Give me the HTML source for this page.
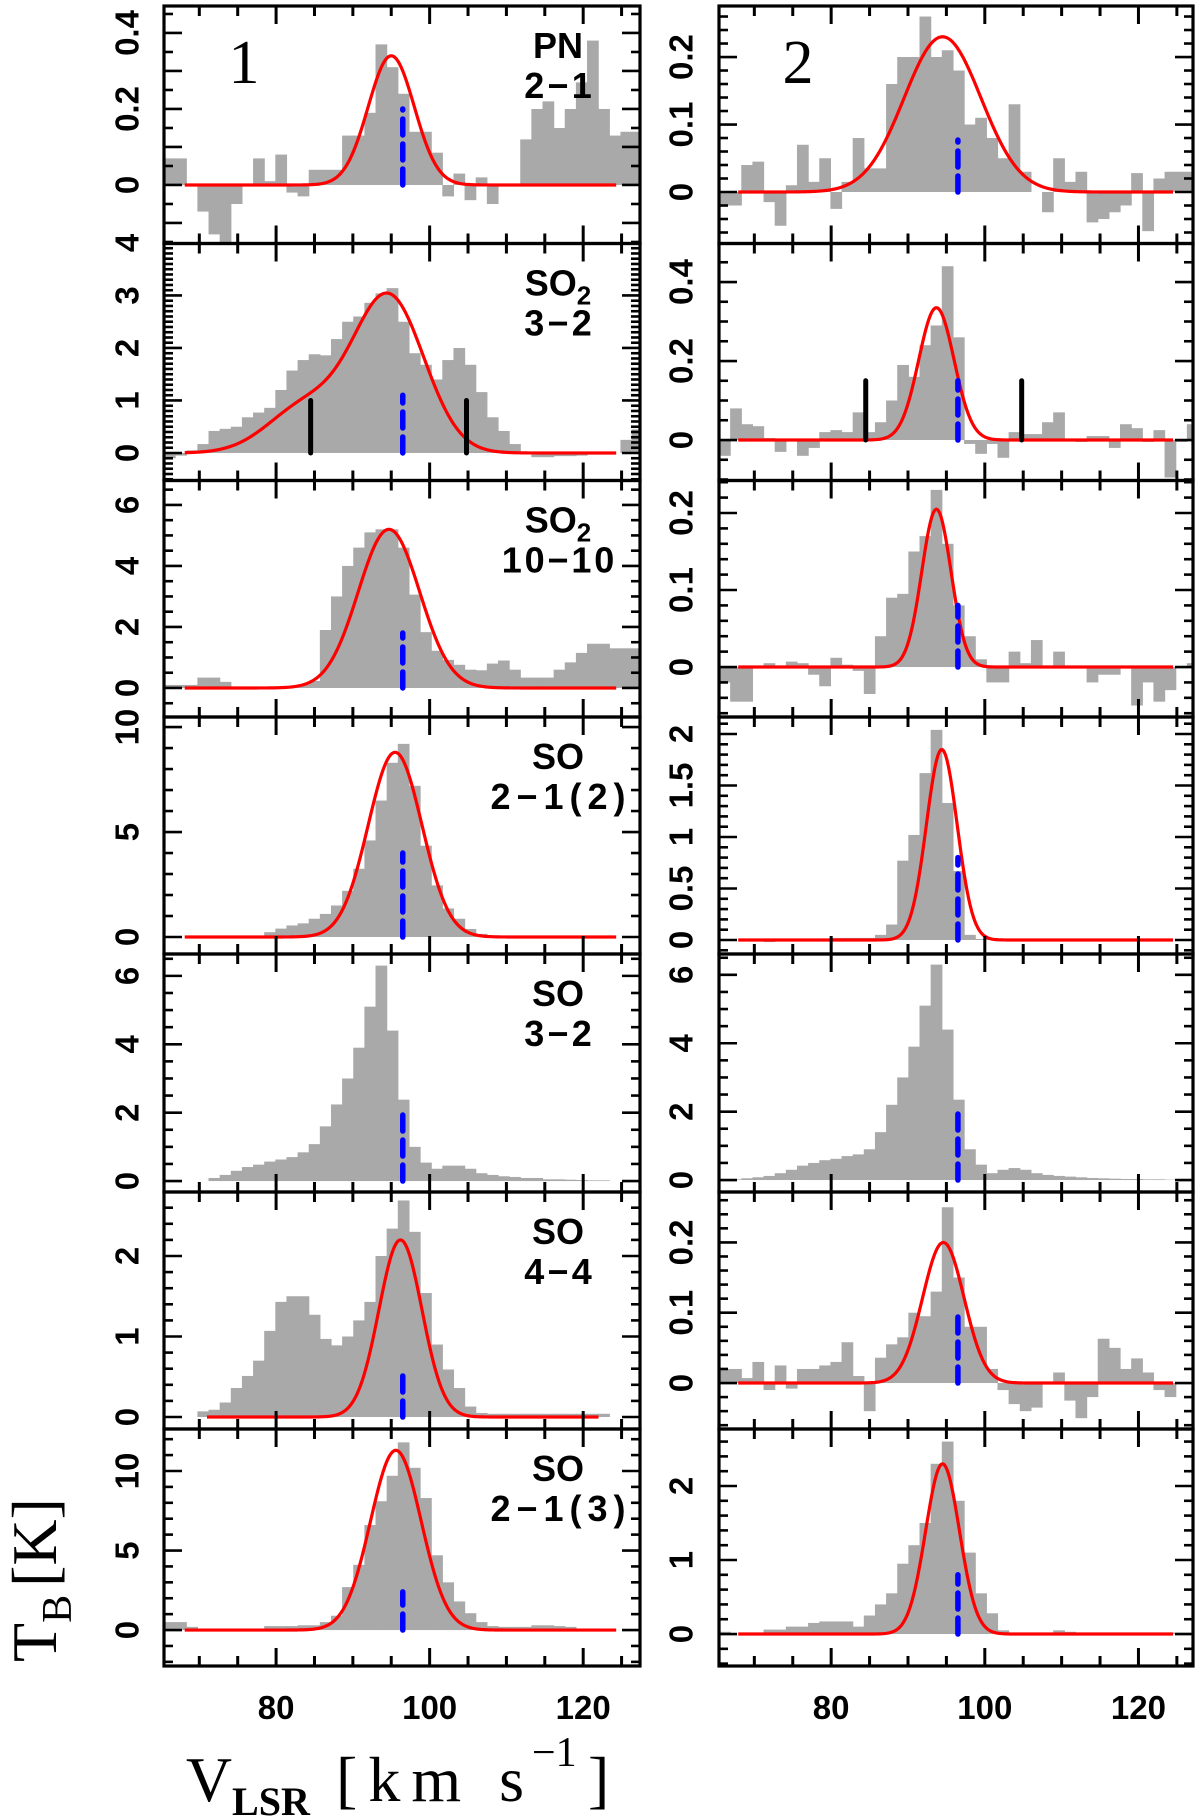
<!DOCTYPE html>
<html><head><meta charset="utf-8"><style>
html,body{margin:0;padding:0;background:#fff}
svg{display:block}
</style></head><body>
<svg id="chart" width="1200" height="1819" viewBox="0 0 1200 1819" xmlns="http://www.w3.org/2000/svg"></svg>
<script>
// ---- data ----
const binStart = 65.4;
const binWidth = 1.45;
const vlsr = 96.5;
const lineLabelTop = ["PN","SO2","SO2","SO","SO","SO","SO"];
const lineLabelBottom = ["2\u22121","3\u22122","10\u221210","2\u22121(2)","3\u22122","4\u22124","2\u22121(3)"];
const xTickLabels = [80, 100, 120];

const histL1 = [0.07,0.07,0.0,-0.07,-0.13,-0.15,-0.05,0.0,0.07,0.01,0.08,-0.02,-0.03,0.04,0.04,0.04,0.13,0.13,0.19,0.37,0.31,0.24,0.14,0.14,0.085,-0.03,0.03,-0.04,0.02,-0.05,0,0,0.12,0.2,0.22,0.15,0.2,0.27,0.38,0.2,0.13,0.14,0.14];
const histL2 = [-0.1,-0.05,0.05,0.17,0.42,0.46,0.5,0.68,0.77,0.86,1.2,1.57,1.77,1.88,1.86,2.17,2.5,2.6,2.86,3.04,3.14,2.5,1.9,1.68,1.4,1.77,2.0,1.68,1.16,0.68,0.42,0.17,0,-0.08,-0.08,-0.06,-0.06,-0.05,0,0,0,0.25,0.45];
const histL3 = [0.1,0.1,0.1,0.34,0.34,0.2,0.05,0,0,0,0,0.05,0.1,0.23,1.9,3.0,4.0,4.6,5.1,5.2,5.2,4.6,3.06,1.83,1.22,0.92,0.76,0.6,0.58,0.8,0.9,0.6,0.34,0.34,0.34,0.6,0.84,1.15,1.45,1.45,1.3,1.3,1.3];
const histL4 = [0,0,0,0,0,0,0,0,0,0.23,0.4,0.55,0.65,0.87,1.1,1.5,2.2,3.25,4.6,6.5,8.3,9.2,7.2,4.35,2.46,1.36,0.87,0.38,0.15,0.05,0,0,0,0,0,0,0,0,0,0,0,0,0];
const histL5 = [0,0,0,0,0.09,0.18,0.3,0.41,0.48,0.57,0.63,0.7,0.84,1.08,1.6,2.24,3.0,3.9,5.1,6.3,4.4,2.38,1.0,0.54,0.36,0.45,0.45,0.36,0.23,0.18,0.14,0.12,0.09,0.09,0.05,0.05,0.04,0.03,0.02,0.02,0,0,0];
const histL6 = [0,0,0,0.07,0.09,0.18,0.36,0.51,0.7,1.07,1.43,1.5,1.5,1.27,0.97,0.89,1.0,1.2,1.43,2.0,2.34,2.69,2.3,1.54,0.9,0.59,0.36,0.13,0.05,0.04,0.04,0.04,0.04,0.04,0.04,0.04,0.04,0.04,0.04,0.04,0,0,0];
const histL7 = [0.5,0.5,0.2,0.1,0.1,0.1,0.1,0.1,0.1,0.25,0.25,0.25,0.3,0.3,0.5,0.9,2.7,4.1,6.6,8.1,9.7,11.8,10.2,8.3,4.7,3.0,1.8,1.06,0.5,0.25,0.2,0.2,0.2,0.3,0.3,0.25,0.2,0.1,0.1,0.05,0,0,0];
const histR1 = [-0.02,-0.02,0.04,0.045,-0.015,-0.05,0.01,0.07,0.015,0.05,-0.025,0.015,0.08,0.035,0.035,0.16,0.2,0.2,0.26,0.2,0.21,0.18,0.1,0.11,0.08,0.05,0.13,0.03,0.0,-0.03,0.05,0.015,0.03,-0.045,-0.04,-0.03,-0.02,0.028,-0.058,0.02,0.03,0.03,0.03];
const histR2 = [-0.04,0.08,0.04,0.035,0.005,-0.03,0,-0.04,-0.02,0.02,0.025,0.02,0.07,0.02,0.045,0.1,0.19,0.16,0.24,0.29,0.44,0.26,-0.01,-0.035,-0.01,-0.045,0.02,0.015,0.015,0.045,0.07,0,-0.005,0.01,0.01,-0.02,0.04,0.03,-0.005,0.025,-0.095,-0.005,0.04];
const histR3 = [-0.02,-0.045,-0.045,0,0.005,0,0.007,0.005,-0.01,-0.025,0.012,0.003,-0.005,-0.035,0.04,0.09,0.095,0.15,0.17,0.23,0.16,0.08,0.04,0.01,-0.02,-0.02,0.02,0.005,0.035,0,0.02,0,0,-0.02,-0.01,-0.01,0,-0.05,-0.02,-0.045,-0.03,0,0.005];
const histR4 = [0,0,0,0,-0.02,0.01,0.01,0.01,0.01,0.01,0.02,0.02,0.02,0.02,0.05,0.15,0.77,1.02,1.62,2.04,1.33,0.67,0.05,0.01,0.01,0.01,0,0,0,0,0,0,0,0,0,0,0,0,0,0,0,0,0];
const histR5 = [0,0.02,0.05,0.08,0.12,0.2,0.3,0.42,0.5,0.58,0.62,0.7,0.75,0.9,1.4,2.2,3.0,3.9,5.1,6.3,4.4,2.35,0.9,0.45,0.2,0.3,0.35,0.3,0.2,0.15,0.12,0.1,0.08,0.06,0.05,0.04,0.03,0.03,0.02,0.02,0.01,0.01,0.01];
const histR6 = [0.02,0.02,0.007,0.03,-0.01,0.025,-0.008,0.02,0.02,0.025,0.03,0.058,0.01,-0.04,0.036,0.055,0.065,0.1,0.095,0.13,0.25,0.15,0.08,0.08,0.02,-0.01,-0.03,-0.04,-0.035,0,0.015,-0.025,-0.05,-0.02,0.063,0.05,0.02,0.035,0.015,-0.01,-0.02,0,0];
const histR7 = [0.03,0,0,0,0.06,0.06,0.1,0.1,0.15,0.17,0.17,0.17,0.1,0.25,0.4,0.55,0.95,1.2,1.5,2.3,2.6,1.8,1.1,0.55,0.28,0.05,0.02,0.02,0.02,0.02,0.05,0.03,0.02,0.02,0.02,0.02,0.02,0.02,0.02,0.02,0.02,0.02,0.02];

// gaussian fit components: [amplitude, centre, sigma]; null = no fit
const fitsLeft = [[[0.34,95,3.0]],[[2.95,94.7,4.6],[0.9,84,5]],[[5.2,94.7,4.0]],[[8.8,95.5,3.5]],null,[[2.2,96.2,2.8]],[[11.3,95.6,3.3]]];
const fitsRight = [[[0.23,94.5,5.0]],[[0.335,93.7,2.3]],[[0.205,93.7,1.9]],[[1.85,94.4,2.0]],null,[[0.2,94.6,2.7]],[[2.3,94.5,2.2]]];
const fitRangeLeft = [[68.1,124.4],[68.1,124.4],[68.1,124.4],[68.1,124.4],null,[71,122],[68.1,124.4]];
const fitRangeRight = [[67.9,124.5],[67.9,124.5],[67.9,124.5],[67.9,124.5],null,[67.9,124.5],[67.9,124.5]];
const vlsrMarkLeft = [0.2,1.1,1.8,4.0,2.0,0.55,2.4];
const vlsrMarkRight = [0.077,0.15,0.08,0.8,2.0,0.1,0.8];
const limitVel = [84.5,104.8];
const limitHeight = [1.0,0.15];

// y axis domains [min,max]
const yDomLeft = [[-0.154,0.471],[-0.524,3.99],[-0.951,6.80],[-0.81,10.48],[-0.32,6.64],[-0.149,2.795],[-2.26,12.64]];
const yDomRight = [[-0.0763,0.2756],[-0.1025,0.4975],[-0.0649,0.2422],[-0.136,2.165],[-0.35,6.61],[-0.0654,0.2717],[-0.432,2.77]];
const yLabelsLeft = [["0","0.2","0.4"],["0","1","2","3","4"],["0","2","4","6"],["0","5","10"],["0","2","4","6"],["0","1","2"],["0","5","10"]];
const yLabelsRight = [["0","0.1","0.2"],["0","0.2","0.4"],["0","0.1","0.2"],["0","0.5","1","1.5","2"],["0","2","4","6"],["0","0.1","0.2"],["0","1","2"]];
const yMajorLeft = [0.1,1,2,5,2,1,5];
const yMinorLeft = [0.05,0.1,0.5,1,0.5,0.2,1];
const yMajorRight = [0.1,0.2,0.1,0.5,2,0.1,1];
const yMinorRight = [0.02,0.05,0.02,0.1,0.5,0.02,0.2];

const histsLeft = [histL1,histL2,histL3,histL4,histL5,histL6,histL7];
const histsRight = [histR1,histR2,histR3,histR4,histR5,histR6,histR7];

// ---- layout ----
const NS = "http://www.w3.org/2000/svg";
const svg = document.getElementById("chart");
const rowTops = [6,243.5,480.5,717,954,1192,1429,1666];
const cols = [{x0:164,x1:640,vmax:127.4,labX:127},{x0:719,x1:1193,vmax:127.1,labX:681}];

function mk(tag, attrs, parent){
  const e = document.createElementNS(NS, tag);
  for (const k in attrs) e.setAttribute(k, attrs[k]);
  (parent||svg).appendChild(e);
  return e;
}
const defs = mk("defs",{});

function drawPanel(ci, ri){
  const c = cols[ci];
  const top = rowTops[ri], bot = rowTops[ri+1];
  const dom = ci===0 ? yDomLeft[ri] : yDomRight[ri];
  const xs = v => c.x0 + (v - binStart) * (c.x1 - c.x0) / (c.vmax - binStart);
  const ys = t => bot - (t - dom[0]) * (bot - top) / (dom[1] - dom[0]);
  const g = mk("g",{});
  
  
  const clipId = "clip"+ci+"_"+ri;
  const cp = mk("clipPath",{id:clipId},defs);
  mk("rect",{x:c.x0,y:top,width:c.x1-c.x0,height:bot-top},cp);
  const inner = mk("g",{"clip-path":"url(#"+clipId+")"},g);
  const hist = ci===0 ? histsLeft[ri] : histsRight[ri];
  const hg = mk("g",{},inner);
  
  
  hist.forEach((val,k)=>{
    const v0 = binStart + k*binWidth, v1 = v0 + binWidth;
    const y0 = ys(0), y1 = ys(val);
    const r = mk("rect",{x:xs(v0),y:Math.min(y0,y1),width:xs(v1)-xs(v0)+0.6,height:Math.abs(y1-y0),fill:"#a9a9a9"},hg);
    
    
  });
  const fit = ci===0 ? fitsLeft[ri] : fitsRight[ri];
  const fr = ci===0 ? fitRangeLeft[ri] : fitRangeRight[ri];
  if (fit){
    let d = "";
    for (let v = fr[0]; v <= fr[1]+1e-9; v += 0.2){
      let t = 0;
      fit.forEach(p => { t += p[0]*Math.exp(-((v-p[1])**2)/(2*p[2]*p[2])); });
      d += (d?"L":"M") + xs(v).toFixed(2) + " " + ys(t).toFixed(2);
    }
    const p = mk("path",{d:d,fill:"none",stroke:"#ff0000","stroke-width":3.2,"stroke-linejoin":"round"},inner);
    
    
  }
  const mh = ci===0 ? vlsrMarkLeft[ri] : vlsrMarkRight[ri];
  const bl = mk("line",{x1:xs(vlsr),x2:xs(vlsr),y1:ys(0),y2:ys(mh),stroke:"#0000ff","stroke-width":5.5,"stroke-dasharray":"16 9","stroke-linecap":"round"},inner);
  
  
  if (ri===1){
    limitVel.forEach(v=>{
      const l = mk("line",{x1:xs(v),x2:xs(v),y1:ys(0),y2:ys(limitHeight[ci]),stroke:"#000","stroke-width":5,"stroke-linecap":"round"},inner);
      
      
    });
  }
  for (let v = 70; v <= 125; v += 5){
    const len = (v%20===0) ? 18 : 10;
    const x = xs(v);
    mk("line",{x1:x,x2:x,y1:bot,y2:bot-len,stroke:"#000","stroke-width":3},g);
    mk("line",{x1:x,x2:x,y1:top,y2:top+len,stroke:"#000","stroke-width":3},g);
  }
  const maj = ci===0 ? yMajorLeft[ri] : yMajorRight[ri];
  const mnr = ci===0 ? yMinorLeft[ri] : yMinorRight[ri];
  const start = Math.ceil(dom[0]/mnr - 1e-6);
  for (let k = start; k*mnr <= dom[1]+1e-9; k++){
    const t = k*mnr;
    const isMaj = Math.abs(t/maj - Math.round(t/maj)) < 1e-6;
    const len = isMaj ? 18 : 9;
    const y = ys(t);
    mk("line",{x1:c.x0,x2:c.x0+len,y1:y,y2:y,stroke:"#000","stroke-width":2.6},g);
    mk("line",{x1:c.x1,x2:c.x1-len,y1:y,y2:y,stroke:"#000","stroke-width":2.6},g);
  }
  const labs = ci===0 ? yLabelsLeft[ri] : yLabelsRight[ri];
  labs.forEach(s=>{
    const y = ys(parseFloat(s));
    const t = mk("text",{x:c.labX,y:y,transform:"rotate(-90 "+c.labX+" "+y+")","text-anchor":"middle","dominant-baseline":"central","font-family":"Liberation Sans, sans-serif","font-weight":"bold","font-size":33},g);
    t.textContent = s;
    
    
  });
  mk("rect",{x:c.x0,y:top,width:c.x1-c.x0,height:bot-top,fill:"none",stroke:"#000","stroke-width":3.2},g);
  if (ci===0){
    const lx = 558;
    const t1 = mk("text",{x:lx,y:top+52,"text-anchor":"middle","font-family":"Liberation Sans, sans-serif","font-weight":"bold","font-size":36},g);
    
    
    const nm = lineLabelTop[ri];
    if (nm==="SO2"){
      t1.appendChild(document.createTextNode("SO"));
      const sub = mk("tspan",{"font-size":26,dy:9},t1); sub.textContent="2";
    } else t1.textContent = nm;
    const lb = lineLabelBottom[ri];
    const t2 = mk("text",{x:lx,y:top+92,"text-anchor":"middle","font-family":"Liberation Sans, sans-serif","font-weight":"bold","font-size":36,textLength:lb.length*22.5,lengthAdjust:"spacing"},g);
    t2.textContent = lb;
    
    
  }
  if (ri===6){
    xTickLabels.forEach(v=>{
      const t = mk("text",{x:xs(v),y:1719,"text-anchor":"middle","font-family":"Liberation Sans, sans-serif","font-weight":"bold","font-size":33},g);
      t.textContent = v;
      
      
    });
  }
}
for (let ci=0; ci<2; ci++) for (let ri=0; ri<7; ri++) drawPanel(ci,ri);

const n1 = mk("text",{x:244,y:83,"text-anchor":"middle","font-family":"Liberation Serif, serif","font-size":62});
n1.textContent = "1";


const n2 = mk("text",{x:798,y:83,"text-anchor":"middle","font-family":"Liberation Serif, serif","font-size":62});
n2.textContent = "2";



const xt = mk("g",{"font-family":"Liberation Serif, serif"});


const a1 = mk("text",{x:186,y:1801,"font-size":64,textLength:46,lengthAdjust:"spacingAndGlyphs"},xt); a1.textContent="V";
const a2 = mk("text",{x:232,y:1815,"font-size":40,"font-weight":"bold",textLength:78,lengthAdjust:"spacingAndGlyphs"},xt); a2.textContent="LSR";
const a3 = mk("text",{x:336,y:1801,"font-size":64,textLength:188,lengthAdjust:"spacing"},xt); a3.textContent="[km s";
const a4 = mk("text",{x:532,y:1766,"font-size":42},xt); a4.textContent="\u22121";
const a5 = mk("text",{x:588,y:1801,"font-size":64},xt); a5.textContent="]";

const ytt = mk("text",{x:0,y:0,transform:"translate(56 1662) rotate(-90)","font-family":"Liberation Serif, serif","font-size":64});


ytt.appendChild(document.createTextNode("T"));
const ysub = mk("tspan",{"font-size":42,dy:15},ytt); ysub.textContent="B";
const yrest = mk("tspan",{dy:-15,dx:8},ytt); yrest.textContent="[K]";
</script>
</body></html>
